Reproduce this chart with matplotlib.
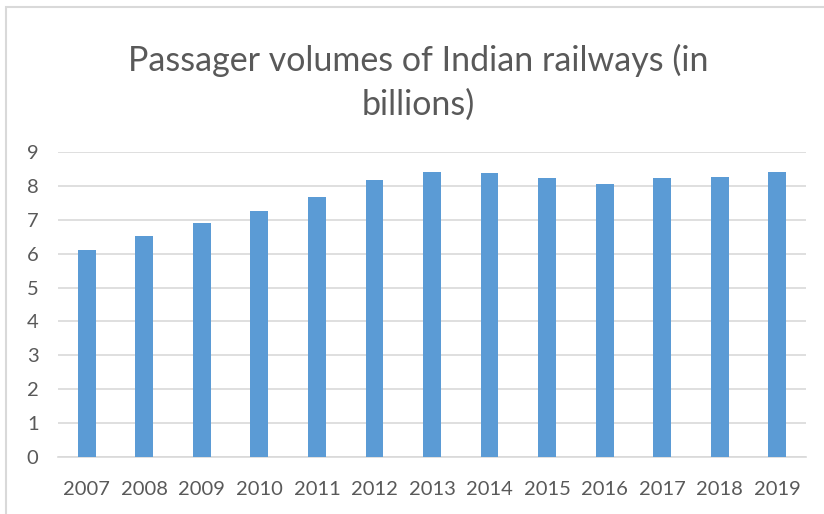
import matplotlib.pyplot as plt
from matplotlib.patches import Rectangle

# Passenger volumes per year (billions)
years = ['2007', '2008', '2009', '2010', '2011', '2012', '2013',
         '2014', '2015', '2016', '2017', '2018', '2019']
volumes = [6.11, 6.52, 6.91, 7.25, 7.66, 8.18, 8.40,
           8.37, 8.22, 8.07, 8.22, 8.26, 8.40]
y_ticks = list(range(0, 10))

plt.rcParams['font.family'] = ['Lato', 'DejaVu Sans']
text_color = '#595959'
grid_color = '#d9d9d9'
bar_color = '#5b9bd5'

fig = plt.figure(figsize=(8.24, 5.14), dpi=100)
W, H = 824, 514

# chart border (clipped on right and bottom)
fig.patches.append(Rectangle((6 / W, -0.1), 1.2, 1 - 7 / H + 0.1,
                             transform=fig.transFigure, fill=False,
                             edgecolor=grid_color, linewidth=1.5))

ax = fig.add_axes([58 / W, 1 - 457 / H, (806 - 58) / W, (457 - 152) / H])
x = range(len(years))
ax.bar(x, volumes, width=0.31, color=bar_color, zorder=3)

ax.set_xlim(-0.5, len(years) - 0.5)
ax.set_ylim(0, 9)
ax.set_yticks(y_ticks)
ax.set_xticks(list(x))
ax.set_xticklabels(years)
ax.yaxis.grid(True, color=grid_color, linewidth=1.2, zorder=0)
for side in ['top', 'right', 'left']:
    ax.spines[side].set_visible(False)
ax.spines['bottom'].set_color(grid_color)
ax.spines['bottom'].set_linewidth(1.2)
ax.tick_params(axis='both', length=0, labelsize=14.5, colors=text_color)
ax.tick_params(axis='y', pad=14)
ax.tick_params(axis='x', pad=17)

fig.text(418 / W, 1 - 115 / H, 'Passager volumes of Indian railways (in\nbillions)',
         ha='center', va='baseline', fontsize=24.5, color=text_color,
         linespacing=1.45)

fig.savefig('out.png', dpi=100)
